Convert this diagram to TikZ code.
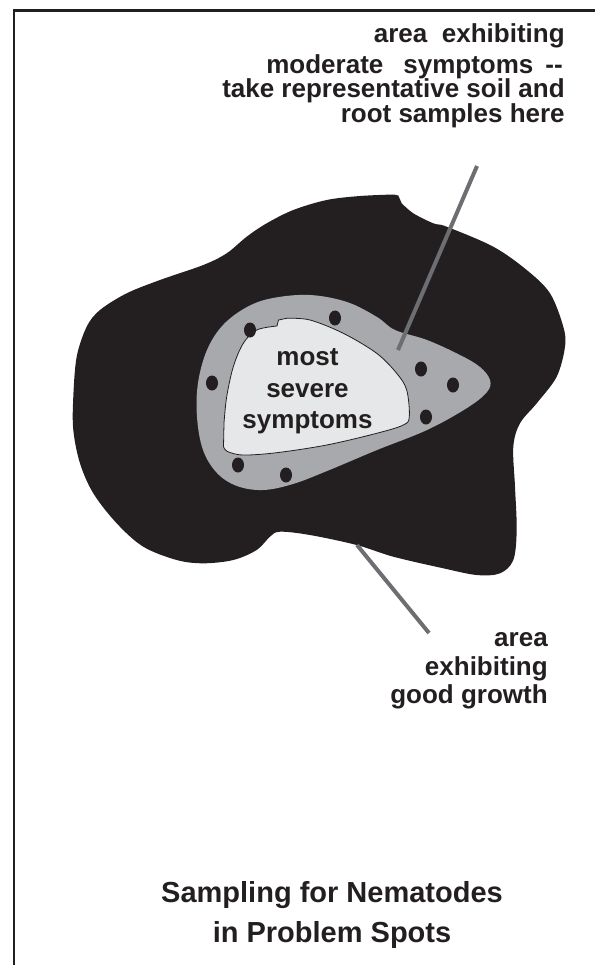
\documentclass[tikz,border=0pt]{standalone}
\usepackage{fontspec}
\setmainfont{Liberation Sans}
\definecolor{ink}{HTML}{231F20}
\definecolor{band}{HTML}{A7A9AC}
\definecolor{core}{HTML}{E6E7E8}
\definecolor{pointer}{HTML}{6D6E71}
\begin{document}
\begin{tikzpicture}[x=0.75pt,y=-0.75pt,
  lbl/.style={font=\fontsize{19.5}{19.5}\selectfont\bfseries, text=ink, inner sep=0pt},
  ttl/.style={font=\fontsize{21.75}{21.75}\selectfont\bfseries, text=ink, inner sep=0pt},
  ptr/.style={draw=pointer, line width=3pt},
  frame/.style={draw=ink, line width=1.95pt}]
\useasboundingbox (0,0) rectangle (594,965);
% frame (only top and left visible)
\draw[frame] (14,966) -- (14,10.5) -- (595,10.5);
% outer black area (good growth)
\fill[ink] (398.3,195.5) -- plot[smooth, tension=0.55] coordinates {
 (401.7,203.3) (413.3,213.3) (433.3,223.3) (446.7,226.7) (493.3,246.7)
 (526.7,270) (550,293.3) (563.3,326.7) (565,346.7) (556.7,376.7)
 (536.7,403.3) (520,423.3) (513.3,446.7) (515,486.7) (516.7,530)
 (513.3,560) (500,573.3) (476.7,575) (443.3,568.3) (393.3,556.7)
 (356.7,545) (310,535) (280,531.7) (270,536.7) (256.7,550)
 (233.3,560) (203.3,563.3) (176.7,560) (143.3,546.7) (116.7,523.3)
 (93.3,493.3) (80,463.3) (73.3,430) (73.3,396.7) (76.7,356.7)
 (86.7,326.7) (100,310) (126.7,293.3) (160,280) (203.3,265)
 (226.7,253.3) (246.7,236.7) (266.7,223.3) (293.3,210) (326.7,200)
 (360,196) (393.3,194.5)} -- cycle;
% gray band (moderate symptoms)
\fill[band] plot[smooth cycle, tension=0.6] coordinates {
 (273,298) (310,295) (347,302) (377,317) (395,330) (427,340)
 (460,355) (480,367) (490,380) (487,392) (467,408) (427,430)
 (377,450) (327,471) (293,484) (263,490) (237,486) (217,473)
 (203,450) (197,417) (198,383) (207,350) (223,325) (247,307)};
% inner light area (most severe)
\filldraw[fill=core, draw=ink, line width=0.6pt]
 (277,326) -- (278.5,320) -- plot[smooth, tension=0.55] coordinates {
 (286.7,318.3) (310,320) (343.3,333.3) (376.7,353.3) (396.7,373.3)
 (406.7,390) (409.3,416.7) (403.3,425) (376.7,433.3) (326.7,445)
 (276.7,452.7) (243.3,455) (227.5,451.5) (223.5,446.5)}
 -- plot[smooth, tension=0.55] coordinates {
 (224,423) (226.7,396.7) (233.3,366.7) (243.3,343.3) (256.7,330) (277,326)} -- cycle;
% sample spots
\foreach \i/\px/\py in {1/250/330, 2/335/318, 3/212/383, 4/421/369, 5/453/385, 6/426/417, 7/238/465, 8/286/475}
  \fill[ink] (\px,\py) ellipse[x radius=6, y radius=7.5];
% connectors
\coordinate (modend) at (477,166);
\coordinate (modtip) at (398,350);
\coordinate (goodtip) at (357,545);
\coordinate (goodend) at (429,633);
\draw[ptr] (modend) -- (modtip);
\draw[ptr] (goodtip) -- (goodend);
% labels: moderate symptoms
\node[lbl, anchor=base east] (m1) at (565,42) {area\hspace{11pt}exhibiting};
\node[lbl, anchor=base east] (m2) at (563,73) {moderate\hspace{15pt}symptoms\hspace{9pt}{-}{-}};
\node[lbl, anchor=base east] (m3) at (565,97) {take representative soil and};
\node[lbl, anchor=base east] (m4) at (565,122) {root samples here};
% labels: good growth
\node[lbl, anchor=base east] (g1) at (548,646) {area};
\node[lbl, anchor=base east] (g2) at (548,675) {exhibiting};
\node[lbl, anchor=base east] (g3) at (548,703) {good growth};
% labels: most severe
\node[lbl, anchor=base] (s1) at (307.5,365) {most};
\node[lbl, anchor=base] (s2) at (307.5,397.5) {severe};
\node[lbl, anchor=base] (s3) at (307.5,428) {symptoms};
% title
\node[ttl, anchor=base] (t1) at (332,902) {Sampling for Nematodes};
\node[ttl, anchor=base] (t2) at (332,942) {in Problem Spots};
\end{tikzpicture}
\end{document}
